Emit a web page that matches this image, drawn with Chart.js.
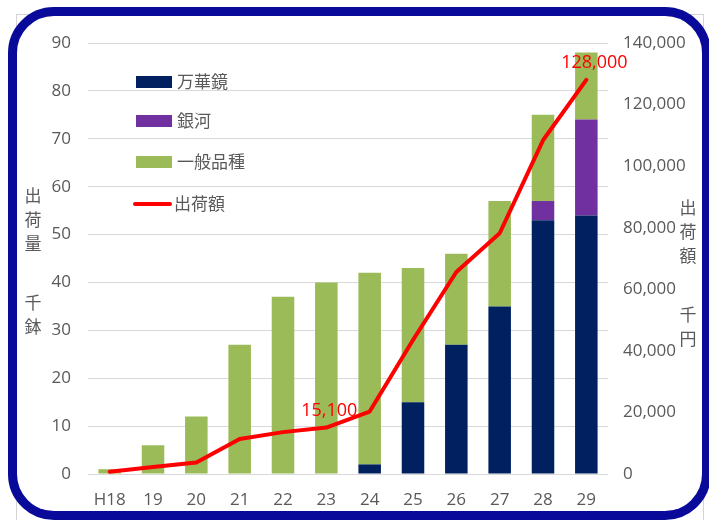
<!DOCTYPE html>
<html>
<head>
<meta charset="utf-8">
<script src="https://cdn.jsdelivr.net/npm/chart.js@4"></script>
<style>
  body { margin:0; width:709px; height:520px; overflow:hidden; background:#fff; position:relative; font-family:"Open Sans","Noto Sans CJK JP",sans-serif; color:#595959; }
  #frame { position:absolute; left:16px; top:14px; width:688px; height:520px; border:1px solid #d4d4d4; box-sizing:border-box; }
  #box { position:absolute; left:8px; top:7px; width:703px; height:513px; border:9px solid #0a0a9a; border-radius:46px; box-sizing:border-box; background:#fff; }
  #c { position:absolute; left:0; top:0; }
  .lg { position:absolute; left:136px; font-size:17px; font-family:"Noto Sans CJK JP",sans-serif; line-height:20px; }
  .lg i { display:inline-block; width:36px; height:12px; vertical-align:middle; margin-right:5px; margin-top:-3px; }
  .vt { position:absolute; font-size:17px; font-family:"Noto Sans CJK JP",sans-serif; line-height:24px; width:20px; text-align:center; }
</style>
</head>
<body>
<div id="frame"></div>
<div id="box"></div>
<canvas id="c" width="709" height="520"></canvas>
<div class="lg" style="top:71px"><i style="background:#002060"></i>万華鏡</div>
<div class="lg" style="top:110px"><i style="background:#7030a0"></i>銀河</div>
<div class="lg" style="top:151px"><i style="background:#9bbb59"></i>一般品種</div>
<div class="lg" style="top:193px;left:133px"><i style="height:4px;width:39px;border-radius:2px;background:#ff0000;margin-right:2px"></i>出荷額</div>
<div class="vt" style="left:23px;top:183px">出<br>荷<br>量</div>
<div class="vt" style="left:23px;top:290px">千<br>鉢</div>
<div class="vt" style="left:678px;top:195px">出<br>荷<br>額</div>
<div class="vt" style="left:678px;top:302px">千<br>円</div>
<script>
const years = ['H18','19','20','21','22','23','24','25','26','27','28','29'];
const mangekyo = [0,0,0,0,0,0,2,15,27,35,53,54];
const ginga = [0,0,0,0,0,0,0,0,0,0,4,20];
const ippan = [1,6,12,27,37,40,40,28,19,22,18,14];
const shukkagaku = [700,2300,3700,11400,13600,15100,20300,43500,65600,78200,108400,128000];
const labelled = [5, 11];

const tickFont = { family:'"Open Sans", sans-serif', size:17 };

const pointLabels = {
  id:'pointLabels',
  afterDatasetsDraw(chart) {
    const ctx = chart.ctx;
    const meta = chart.getDatasetMeta(3);
    ctx.save();
    ctx.font = '18px "Open Sans", sans-serif';
    ctx.fillStyle = '#ff0000';
    ctx.textAlign = 'center';
    ctx.textBaseline = 'middle';
    labelled.forEach(i => {
      const p = meta.data[i];
      const txt = shukkagaku[i].toLocaleString('en-US');
      const dx = i === 11 ? 8 : 3;
      ctx.fillText(txt, p.x + dx, p.y - 17);
    });
    ctx.restore();
  }
};

new Chart(document.getElementById('c'), {
  data:{
    labels: years,
    datasets:[
      {type:'bar', label:'万華鏡', data:mangekyo, backgroundColor:'#002060', yAxisID:'y', order:1},
      {type:'bar', label:'銀河', data:ginga, backgroundColor:'#7030a0', yAxisID:'y', order:1},
      {type:'bar', label:'一般品種', data:ippan, backgroundColor:'#9bbb59', yAxisID:'y', order:1},
      {type:'line', label:'出荷額', data:shukkagaku, borderColor:'#ff0000', borderWidth:4, pointRadius:0, tension:0, yAxisID:'y1', order:0, borderCapStyle:'round', borderJoinStyle:'round'}
    ]
  },
  options:{
    responsive:false, animation:false,
    layout:{ padding:{ top:43, left:0, right:0, bottom:0 } },
    plugins:{ legend:{ display:false }, tooltip:{ enabled:false } },
    datasets:{ bar:{ barPercentage:0.52, categoryPercentage:1 } },
    scales:{
      x:{ stacked:true, grid:{ display:false, drawTicks:false }, border:{ display:false },
          ticks:{ color:'#595959', font:tickFont, padding:16, maxRotation:0 },
          afterFit(s){ s.height = 46; } },
      y:{ stacked:true, min:0, max:90, position:'left',
          grid:{ color:'#d9d9d9', drawTicks:false }, border:{ display:false },
          ticks:{ stepSize:10, color:'#595959', font:tickFont, padding:17 },
          afterFit(s){ s.width = 88; } },
      y1:{ min:0, max:140000, position:'right',
          grid:{ display:false, drawTicks:false }, border:{ display:false },
          ticks:{ stepSize:20000, color:'#595959', font:tickFont, padding:15,
                  callback:v => v.toLocaleString('en-US') },
          afterFit(s){ s.width = 101; } }
    }
  },
  plugins:[pointLabels]
});
</script>
</body>
</html>
